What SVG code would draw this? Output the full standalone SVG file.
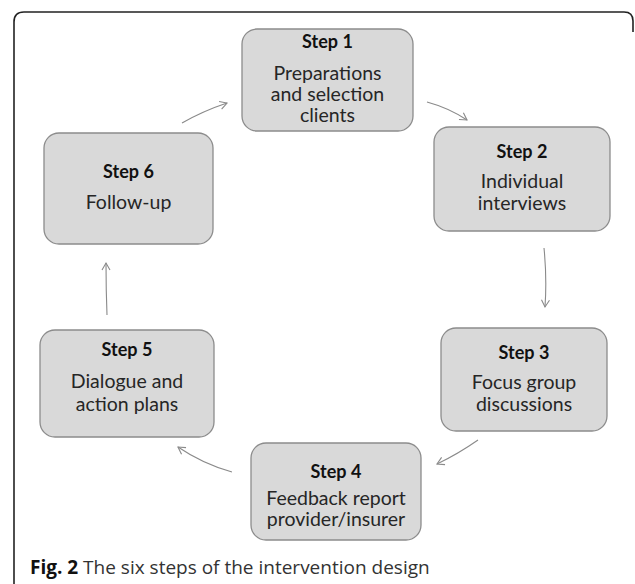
<svg xmlns="http://www.w3.org/2000/svg" width="635" height="584" viewBox="0 0 635 584">
<style>
.box{fill:#d9d9d9;stroke:#8c8c8c;stroke-width:1.3}
.t{font-family:Lato,"Open Sans","Liberation Sans",sans-serif;font-size:19.5px;fill:#262626;text-anchor:middle}
.h{font-family:Lato,"Open Sans","Liberation Sans",sans-serif;font-size:18px;font-weight:bold;fill:#111;text-anchor:middle}
.c{fill:none;stroke:#8a8a8a;stroke-width:1.1}
.cap{font-family:"Open Sans","Liberation Sans",sans-serif;font-size:19px;fill:#333}
</style>
<defs>
<marker id="ah" markerWidth="10" markerHeight="10" refX="8" refY="5" orient="auto" markerUnits="userSpaceOnUse">
<path d="M1,1 L8,5 L1,9" fill="none" stroke="#8a8a8a" stroke-width="1.1"/>
</marker>
</defs>
<rect width="635" height="584" fill="#fff"/>
<path d="M14,584 V22 Q14,12 24,12 H624 Q633,12 633,21 V32" fill="none" stroke="#222" stroke-width="1.6"/>
<g id="step1">
<rect class="box" x="242" y="29" width="171" height="102" rx="15"/>
<text class="h" x="327.5" y="48">Step 1</text>
<text class="t" x="327.5" y="80">Preparations</text>
<text class="t" x="327.5" y="101">and selection</text>
<text class="t" x="327.5" y="122">clients</text>
</g>
<g id="step2">
<rect class="box" x="434" y="127" width="176" height="104" rx="15"/>
<text class="h" x="522" y="158">Step 2</text>
<text class="t" x="522" y="188">Individual</text>
<text class="t" x="522" y="210">interviews</text>
</g>
<g id="step3">
<rect class="box" x="441" y="328" width="166" height="103" rx="15"/>
<text class="h" x="524" y="359">Step 3</text>
<text class="t" x="524" y="389">Focus group</text>
<text class="t" x="524" y="411">discussions</text>
</g>
<g id="step4">
<rect class="box" x="251" y="443" width="170" height="97" rx="15"/>
<text class="h" x="336" y="478">Step 4</text>
<text class="t" x="336" y="505">Feedback report</text>
<text class="t" x="336" y="526">provider/insurer</text>
</g>
<g id="step5">
<rect class="box" x="40" y="330" width="174" height="107" rx="15"/>
<text class="h" x="127" y="356">Step 5</text>
<text class="t" x="127" y="388">Dialogue and</text>
<text class="t" x="127" y="411">action plans</text>
</g>
<g id="step6">
<rect class="box" x="44" y="133" width="169" height="111" rx="15"/>
<text class="h" x="128.5" y="178">Step 6</text>
<text class="t" x="128.5" y="209">Follow-up</text>
</g>
<g id="connectors">
<path class="c" d="M182,123 Q203,111 227,103" marker-end="url(#ah)"/>
<path class="c" d="M427,102 Q449,108 467,120" marker-end="url(#ah)"/>
<path class="c" d="M544,248 Q547,278 545,307" marker-end="url(#ah)"/>
<path class="c" d="M478,440 Q458,454 437,464" marker-end="url(#ah)"/>
<path class="c" d="M232,472 Q203,464 178,447" marker-end="url(#ah)"/>
<path class="c" d="M107,315 Q106,290 106,263" marker-end="url(#ah)"/>
</g>
<text class="cap" x="30" y="574"><tspan font-weight="bold" fill="#111">Fig. 2</tspan> The six steps of the intervention design</text>
</svg>
